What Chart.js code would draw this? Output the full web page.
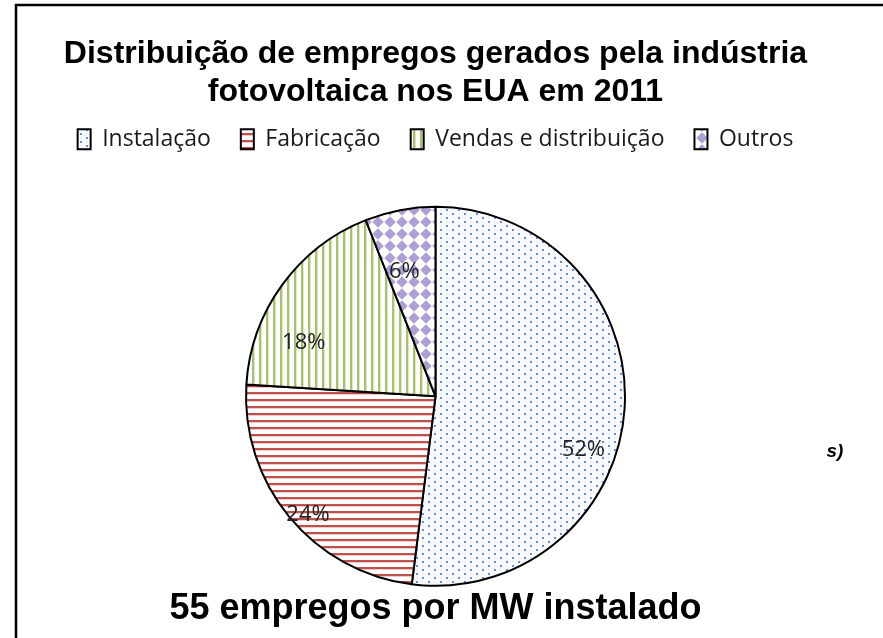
<!DOCTYPE html>
<html>
<head>
<meta charset="utf-8">
<script src="https://cdn.jsdelivr.net/npm/chart.js@4.4.0/dist/chart.umd.min.js"></script>
<style>
  html, body { margin: 0; padding: 0; background: #fff; }
</style>
</head>
<body>
<canvas id="pie" width="883" height="638"></canvas>
<script>
const categories = ['Instalação', 'Fabricação', 'Vendas e distribuição', 'Outros'];
const shares = [52, 24, 18, 6];
const titleLines = ['Distribuição de empregos gerados pela indústria', 'fotovoltaica nos EUA em 2011'];
const footNote = '55 empregos por MW instalado';

// where each percentage label sits: [angle in degrees from 3 o'clock, fraction of radius]
const labelSpots = [[20, 0.83], [137, 0.92], [202, 0.75], [256, 0.68]];

const canvas = document.getElementById('pie');
const ctx = canvas.getContext('2d');

function makePattern(w, h, draw) {
    const c = document.createElement('canvas');
    c.width = w;
    c.height = h;
    const g = c.getContext('2d');
    draw(g, w, h);
    return ctx.createPattern(c, 'repeat');
}

// light blue dots on white
const dots = makePattern(12, 8, (g, w, h) => {
    g.fillStyle = '#fafbff';
    g.fillRect(0, 0, w, h);
    g.fillStyle = 'rgba(80,120,215,0.85)';
    g.fillRect(2, 1, 2, 2);
    g.fillRect(8, 5, 2, 2);
    g.fillStyle = 'rgba(80,120,215,0.22)';
    g.fillRect(8, 1, 1, 1);
    g.fillRect(2, 5, 1, 1);
});
// red horizontal stripes
const redLines = makePattern(7, 7, (g, w, h) => {
    g.fillStyle = '#fff';
    g.fillRect(0, 0, w, h);
    g.fillStyle = '#c0504d';
    g.fillRect(0, 0, w, 2);
    g.fillStyle = 'rgba(192,80,77,0.3)';
    g.fillRect(0, 2, w, 1);
});
// green vertical stripes
const greenLines = makePattern(7, 7, (g, w, h) => {
    g.fillStyle = '#fff';
    g.fillRect(0, 0, w, h);
    g.fillStyle = '#a5c46a';
    g.fillRect(0, 0, 2, h);
    g.fillStyle = 'rgba(155,187,89,0.35)';
    g.fillRect(2, 0, 1, h);
});
// lavender diamonds, checkerboard style
const diamonds = makePattern(12, 12, (g, w, h) => {
    g.fillStyle = '#fff';
    g.fillRect(0, 0, w, h);
    g.fillStyle = '#ad9fd4';
    g.beginPath();
    g.moveTo(6, 0.3);
    g.lineTo(11.7, 6);
    g.lineTo(6, 11.7);
    g.lineTo(0.3, 6);
    g.closePath();
    g.fill();
});

const frame = {
    id: 'frame',
    beforeDraw(chart) {
        const c = chart.ctx;
        c.save();
        c.strokeStyle = '#000';
        c.lineWidth = 2.5;
        c.beginPath();
        c.moveTo(16, chart.height);
        c.lineTo(16, 5);
        c.lineTo(chart.width, 5);
        c.stroke();
        c.restore();
    }
};

const legendGap = {
    id: 'legendGap',
    beforeInit(chart) {
        const fit = chart.legend.fit;
        chart.legend.fit = function () {
            fit.bind(chart.legend)();
            this.height += 45;
        };
    }
};

const sliceLabels = {
    id: 'sliceLabels',
    afterDatasetsDraw(chart) {
        const c = chart.ctx;
        const meta = chart.getDatasetMeta(0);
        c.save();
        c.font = '22px "Open Sans", sans-serif';
        c.fillStyle = '#222';
        c.textAlign = 'center';
        c.textBaseline = 'middle';
        meta.data.forEach((arc, i) => {
            const a = labelSpots[i][0] * Math.PI / 180;
            const r = arc.outerRadius * labelSpots[i][1];
            c.fillText(shares[i] + '%', arc.x + r * Math.cos(a), arc.y + r * Math.sin(a));
        });
        // stray leftover text at the right edge of the original slide
        c.font = 'italic bold 19px "Liberation Sans", Arial, sans-serif';
        c.fillStyle = '#000';
        c.fillText('s)', 835, 452);
        c.restore();
    }
};

new Chart(ctx, {
    type: 'pie',
    data: {
        labels: categories,
        datasets: [{
            data: shares,
            backgroundColor: [dots, redLines, greenLines, diamonds],
            borderColor: '#000',
            borderWidth: 2
        }]
    },
    options: {
        responsive: false,
        animation: false,
        devicePixelRatio: 1,
        layout: { padding: { left: 0, right: 12 } },
        plugins: {
            tooltip: { enabled: false },
            title: {
                display: true,
                text: titleLines,
                color: '#000',
                font: { family: '"Liberation Sans", Arial, sans-serif', size: 32, weight: 'bold', lineHeight: 1.2 },
                padding: { top: 35, bottom: -14 }
            },
            subtitle: {
                display: true,
                position: 'bottom',
                text: footNote,
                color: '#000',
                font: { family: '"Liberation Sans", Arial, sans-serif', size: 36, weight: 'bold', lineHeight: 1.2 },
                padding: { top: 1, bottom: 7 }
            },
            legend: {
                position: 'top',
                labels: {
                    boxWidth: 13,
                    boxHeight: 20,
                    padding: 30,
                    color: '#1a1a1a',
                    font: { family: '"Open Sans", sans-serif', size: 23 }
                }
            }
        }
    },
    plugins: [frame, legendGap, sliceLabels]
});
</script>
</body>
</html>
